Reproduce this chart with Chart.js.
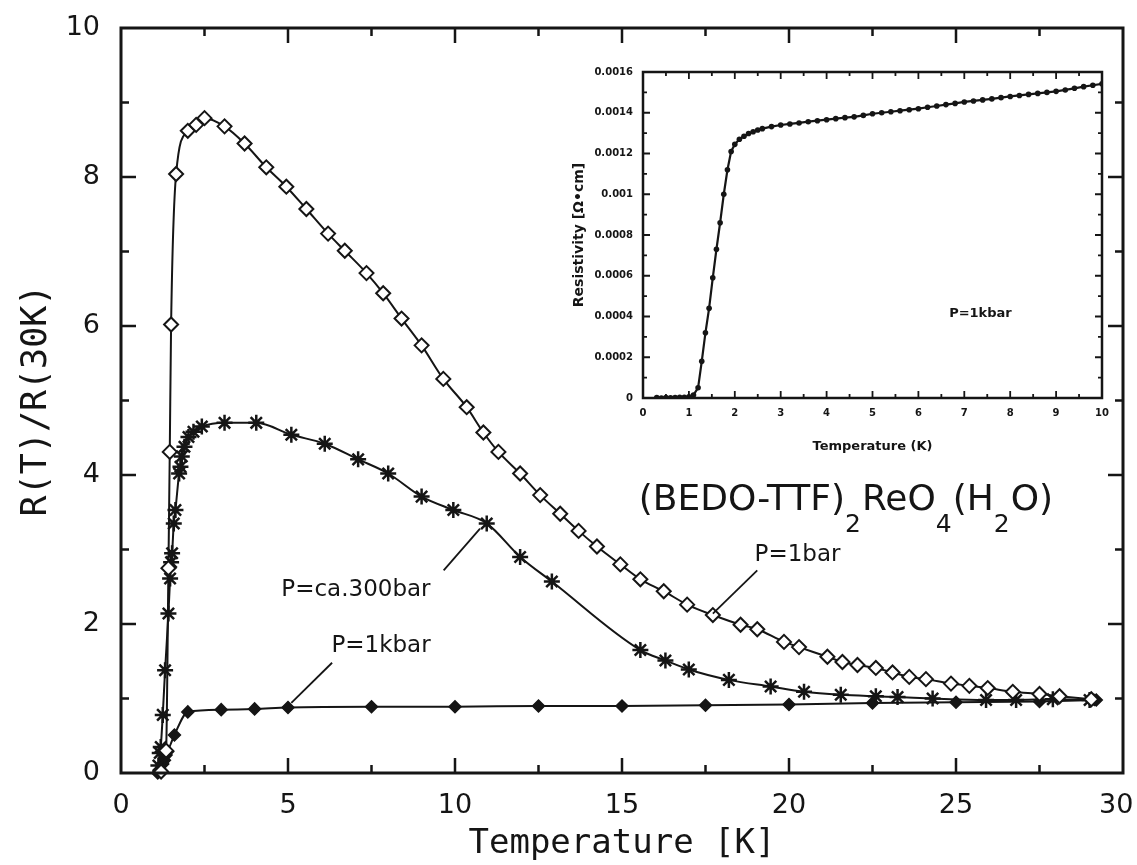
<!DOCTYPE html>
<html>
<head>
<meta charset="utf-8">
<script src="https://cdn.jsdelivr.net/npm/chart.js@4.4.0/dist/chart.umd.min.js"></script>
<style>
  html, body { margin: 0; padding: 0; background: #fff; }
  #wrap { position: relative; width: 1137px; height: 865px; }
  #main { position: absolute; left: 0; top: 0; }
  #inset { position: absolute; left: 560px; top: 50px; }
</style>
</head>
<body>
<div id="wrap">
  <canvas id="main" width="1137" height="865"></canvas>
  <canvas id="inset" width="570" height="420"></canvas>
</div>
<script>
// ---- main plot: R(T)/R(30K) vs temperature ----
// P = 1 bar (open diamonds)
const t1bar = [1.2, 1.35, 1.42, 1.46, 1.5, 1.65, 2.0, 2.25, 2.5, 3.1,
  3.7, 4.35, 4.95, 5.55, 6.2, 6.7, 7.35, 7.85, 8.4, 9.0,
  9.65, 10.35, 10.85, 11.3, 11.95, 12.55, 13.15, 13.7, 14.25, 14.95,
  15.55, 16.25, 16.95, 17.72, 18.55, 19.05, 19.85, 20.3, 21.15, 21.6,
  22.05, 22.6, 23.1, 23.6, 24.1, 24.85, 25.4, 25.95, 26.7, 27.5,
  28.1, 29.05];
const r1bar = [0.02, 0.3, 2.75, 4.31, 6.02, 8.04, 8.62, 8.70, 8.79, 8.68,
  8.45, 8.13, 7.87, 7.57, 7.24, 7.01, 6.71, 6.44, 6.10, 5.74,
  5.29, 4.91, 4.57, 4.31, 4.02, 3.73, 3.48, 3.25, 3.04, 2.80,
  2.60, 2.44, 2.26, 2.12, 1.99, 1.93, 1.76, 1.69, 1.56, 1.49,
  1.45, 1.41, 1.35, 1.29, 1.26, 1.20, 1.17, 1.14, 1.09, 1.06,
  1.03, 0.99];

// P = ca. 300 bar (asterisks)
const t300bar = [1.12, 1.16, 1.19, 1.25, 1.32, 1.42, 1.47, 1.5, 1.53, 1.58,
  1.63, 1.74, 1.78, 1.82, 1.9, 2.02, 2.17, 2.42, 3.1, 4.05,
  5.1, 6.1, 7.1, 8.0, 9.0, 9.95, 10.95, 11.95, 12.9, 15.55,
  16.3, 17.0, 18.2, 19.45, 20.45, 21.55, 22.6, 23.25, 24.3, 25.9,
  26.8, 27.9, 29.0];
const r300bar = [0.1, 0.27, 0.35, 0.78, 1.38, 2.14, 2.61, 2.83, 2.95, 3.35,
  3.53, 4.02, 4.11, 4.25, 4.38, 4.51, 4.58, 4.65, 4.70, 4.70,
  4.54, 4.42, 4.21, 4.02, 3.71, 3.53, 3.35, 2.90, 2.57, 1.65,
  1.51, 1.39, 1.25, 1.16, 1.09, 1.05, 1.03, 1.02, 1.00, 0.98,
  0.98, 0.99, 0.98];

// P = 1 kbar (filled diamonds)
const t1kbar = [1.1, 1.25, 1.3, 1.35, 1.4, 1.6, 2.0, 3.0, 4.0, 5.0,
  7.5, 10.0, 12.5, 15.0, 17.5, 20.0, 22.5, 25.0, 27.5, 29.2];
const r1kbar = [0.0, 0.12, 0.17, 0.24, 0.29, 0.51, 0.82, 0.85, 0.86, 0.88,
  0.89, 0.89, 0.90, 0.90, 0.91, 0.92, 0.94, 0.95, 0.96, 0.98];

// ---- inset: resistivity at 1 kbar ----
const tInset = [0.3, 0.4, 0.5, 0.6, 0.7, 0.8, 0.9, 1.0, 1.1, 1.2,
  1.28, 1.36, 1.44, 1.52, 1.6, 1.68, 1.76, 1.84, 1.92, 2.0,
  2.1, 2.2, 2.3, 2.4, 2.5, 2.6, 2.8, 3.0, 3.2, 3.4,
  3.6, 3.8, 4.0, 4.2, 4.4, 4.6, 4.8, 5.0, 5.2, 5.4,
  5.6, 5.8, 6.0, 6.2, 6.4, 6.6, 6.8, 7.0, 7.2, 7.4,
  7.6, 7.8, 8.0, 8.2, 8.4, 8.6, 8.8, 9.0, 9.2, 9.4,
  9.6, 9.8, 10.0];
const rhoInset = [0.000002, 0.000000, 0.000002, 0.000001, 0.000002, 0.000003, 0.000004, 0.000006, 0.000015, 0.000050,
  0.000180, 0.000320, 0.000440, 0.000590, 0.000730, 0.000860, 0.001000, 0.001120, 0.001210, 0.001245,
  0.001270, 0.001285, 0.001298, 0.001307, 0.001315, 0.001322, 0.001332, 0.001340, 0.001345, 0.001350,
  0.001356, 0.001361, 0.001366, 0.001371, 0.001376, 0.001380, 0.001387, 0.001395, 0.001400, 0.001405,
  0.001410, 0.001415, 0.001420, 0.001427, 0.001433, 0.001440, 0.001446, 0.001453, 0.001458, 0.001463,
  0.001468, 0.001474, 0.001480, 0.001485, 0.001490, 0.001495, 0.001500, 0.001505, 0.001512, 0.001520,
  0.001528, 0.001535, 0.001542];

const INK = '#151515';
const pts = (xs, ys) => xs.map((x, i) => ({ x, y: ys[i] }));

// frame + inward ticks on all four sides
function boxTicks(id, cfg) {
  return {
    id,
    afterDraw(chart) {
      const { ctx, chartArea: a, scales: { x, y } } = chart;
      ctx.save();
      ctx.strokeStyle = INK;
      ctx.lineWidth = cfg.frame;
      ctx.strokeRect(a.left, a.top, a.right - a.left, a.bottom - a.top);
      ctx.lineWidth = cfg.tickWidth;
      ctx.beginPath();
      const nx = Math.round((x.max - x.min) / cfg.xMinor);
      for (let i = 1; i < nx; i++) {
        const v = x.min + i * cfg.xMinor;
        const len = (i % cfg.xEvery === 0) ? cfg.major : cfg.minor;
        const px = x.getPixelForValue(v);
        ctx.moveTo(px, a.bottom); ctx.lineTo(px, a.bottom - len);
        ctx.moveTo(px, a.top); ctx.lineTo(px, a.top + len);
      }
      const ny = Math.round((y.max - y.min) / cfg.yMinor);
      for (let i = 1; i < ny; i++) {
        const v = y.min + i * cfg.yMinor;
        const len = (i % cfg.yEvery === 0) ? cfg.major : cfg.minor;
        const py = y.getPixelForValue(v);
        ctx.moveTo(a.left, py); ctx.lineTo(a.left + len, py);
        ctx.moveTo(a.right, py); ctx.lineTo(a.right - len, py);
      }
      ctx.stroke();
      ctx.restore();
    }
  };
}

// pressure labels with leader lines (data coordinates)
const notes = [
  { text: 'P=1bar', at: [18.97, 2.85], from: [19.05, 2.72], to: [17.72, 2.14] },
  { text: 'P=ca.300bar', at: [4.8, 2.38], from: [9.66, 2.72], to: [10.75, 3.28] },
  { text: 'P=1kbar', at: [6.3, 1.63], from: [6.32, 1.48], to: [5.1, 0.94] }
];
// compound name, pieces flagged as subscripts
const formula = [['(BEDO-TTF)', false], ['2', true], ['ReO', false], ['4', true],
  ['(H', false], ['2', true], ['O)', false]];
const formulaAt = [15.5, 3.53];

const mainNotes = {
  id: 'mainNotes',
  afterDatasetsDraw(chart) {
    const { ctx, scales: { x, y } } = chart;
    ctx.save();
    ctx.fillStyle = INK;
    ctx.strokeStyle = INK;
    ctx.lineWidth = 1.8;
    ctx.textBaseline = 'alphabetic';
    ctx.font = '23px "DejaVu Sans"';
    notes.forEach(n => {
      ctx.fillText(n.text, x.getPixelForValue(n.at[0]), y.getPixelForValue(n.at[1]));
      ctx.beginPath();
      ctx.moveTo(x.getPixelForValue(n.from[0]), y.getPixelForValue(n.from[1]));
      ctx.lineTo(x.getPixelForValue(n.to[0]), y.getPixelForValue(n.to[1]));
      ctx.stroke();
    });
    let px = x.getPixelForValue(formulaAt[0]);
    const py = y.getPixelForValue(formulaAt[1]);
    formula.forEach(([s, sub]) => {
      ctx.font = sub ? '25px "DejaVu Sans"' : '36px "DejaVu Sans"';
      ctx.fillText(s, px, sub ? py + 22 : py);
      px += ctx.measureText(s).width + (sub ? 1 : 0);
    });
    ctx.restore();
  }
};

new Chart(document.getElementById('main'), {
  type: 'scatter',
  data: {
    datasets: [
      {
        label: 'P=1bar',
        data: pts(t1bar, r1bar),
        showLine: true,
        cubicInterpolationMode: 'monotone',
        borderColor: INK,
        borderWidth: 2,
        pointStyle: 'rectRot',
        pointRadius: 7,
        pointBorderWidth: 2,
        pointBackgroundColor: '#fff',
        pointBorderColor: INK
      },
      {
        label: 'P=ca.300bar',
        data: pts(t300bar, r300bar),
        showLine: true,
        cubicInterpolationMode: 'monotone',
        borderColor: INK,
        borderWidth: 2,
        pointStyle: 'star',
        pointRadius: 8,
        pointBorderWidth: 2.5,
        pointBorderColor: INK
      },
      {
        label: 'P=1kbar',
        data: pts(t1kbar, r1kbar),
        showLine: true,
        cubicInterpolationMode: 'monotone',
        borderColor: INK,
        borderWidth: 2,
        pointStyle: 'rectRot',
        pointRadius: 6,
        pointBorderWidth: 1.5,
        pointBackgroundColor: INK,
        pointBorderColor: INK
      }
    ]
  },
  options: {
    responsive: false,
    animation: false,
    events: [],
    clip: false,
    layout: { padding: { top: 28, right: 14, left: 0, bottom: 0 } },
    plugins: { legend: { display: false }, tooltip: { enabled: false } },
    scales: {
      x: {
        type: 'linear', min: 0, max: 30,
        grid: { display: false, drawTicks: false },
        border: { display: false },
        ticks: {
          stepSize: 5, padding: 17, color: INK, font: { family: 'DejaVu Sans', size: 27 },
          // the last label sits slightly inside the frame in the original
          callback: v => (v === 30 ? '30\u2002' : String(v))
        },
        title: { display: true, text: 'Temperature [K]', color: INK,
          font: { family: 'DejaVu Sans Mono', size: 34 }, padding: { top: 0, bottom: 0 } },
        afterFit: s => { s.height = 92; s.paddingLeft = 0; s.paddingRight = 0; }
      },
      y: {
        type: 'linear', min: 0, max: 10,
        grid: { display: false, drawTicks: false },
        border: { display: false },
        ticks: { stepSize: 2, padding: 21, color: INK, font: { family: 'DejaVu Sans', size: 27 } },
        title: { display: true, text: 'R(T)/R(30K)', color: INK,
          font: { family: 'DejaVu Sans Mono', size: 35 }, padding: { top: 16, bottom: 0 } },
        afterFit: s => { s.width = 121; s.paddingTop = 0; s.paddingBottom = 0; }
      }
    }
  },
  plugins: [boxTicks('mainBox', { frame: 3, tickWidth: 2.5, major: 15, minor: 8,
    xMinor: 2.5, xEvery: 2, yMinor: 1, yEvery: 2 }), mainNotes]
});

const insetNote = { text: 'P=1kbar', at: [6.67, 0.000399] };

new Chart(document.getElementById('inset'), {
  type: 'scatter',
  data: {
    datasets: [{
      label: 'P=1kbar',
      data: pts(tInset, rhoInset),
      showLine: true,
      borderColor: INK,
      borderWidth: 2.2,
      pointStyle: 'circle',
      pointRadius: 2.8,
      pointBorderWidth: 0,
      pointBackgroundColor: INK
    }]
  },
  options: {
    responsive: false,
    animation: false,
    events: [],
    layout: { padding: { top: 22, right: 28, left: 0, bottom: 0 } },
    plugins: { legend: { display: false }, tooltip: { enabled: false } },
    scales: {
      x: {
        type: 'linear', min: 0, max: 10,
        grid: { display: false, drawTicks: false },
        border: { display: false },
        ticks: { stepSize: 1, padding: 9, color: INK, font: { family: 'DejaVu Sans', size: 10, weight: 'bold' } },
        title: { display: true, text: 'Temperature (K)', color: INK,
          font: { family: 'DejaVu Sans', size: 13, weight: 'bold' }, padding: { top: 0, bottom: 16 } },
        afterFit: s => { s.height = 72; s.paddingLeft = 0; s.paddingRight = 0; }
      },
      y: {
        type: 'linear', min: 0, max: 0.0016,
        grid: { display: false, drawTicks: false },
        border: { display: false },
        ticks: {
          stepSize: 0.0002, padding: 10, color: INK,
          font: { family: 'DejaVu Sans', size: 10, weight: 'bold' },
          callback: v => (v === 0 ? '0' : String(+v.toFixed(4)))
        },
        title: { display: true, text: 'Resistivity [Ω•cm]', color: INK,
          font: { family: 'DejaVu Sans', size: 14, weight: 'bold' }, padding: { top: 11, bottom: 0 } },
        afterFit: s => { s.width = 83; s.paddingTop = 0; s.paddingBottom = 0; }
      }
    }
  },
  plugins: [boxTicks('insetBox', { frame: 2.5, tickWidth: 1.8, major: 7, minor: 4,
    xMinor: 0.5, xEvery: 2, yMinor: 0.0001, yEvery: 2 }), {
    id: 'insetNote',
    afterDatasetsDraw(chart) {
      const { ctx, scales: { x, y } } = chart;
      ctx.save();
      ctx.fillStyle = INK;
      ctx.font = 'bold 13px "DejaVu Sans"';
      ctx.fillText(insetNote.text, x.getPixelForValue(insetNote.at[0]), y.getPixelForValue(insetNote.at[1]));
      ctx.restore();
    }
  }]
});
</script>
</body>
</html>
